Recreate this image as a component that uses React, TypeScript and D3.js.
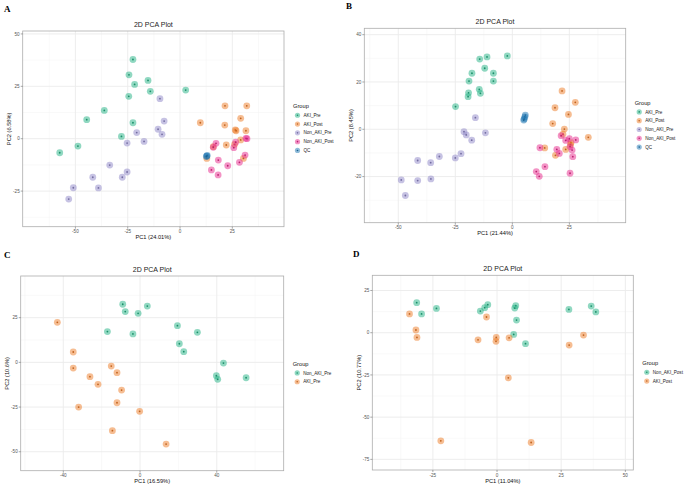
import * as d3 from "d3";
import React from "react";

type Pt = [number, number];

// group names
const groupsAB = ["AKI_Pre", "AKI_Post", "Non_AKI_Pre", "Non_AKI_Post", "QC"];
const groupsC = ["Non_AKI_Pre", "AKI_Pre"];
const groupsD = ["Non_AKI_Post", "AKI_Post"];

// axis labels
const axisTitles = [
  ["PC1 (24.01%)", "PC2 (6.58%)"],
  ["PC1 (21.44%)", "PC2 (8.45%)"],
  ["PC1 (16.59%)", "PC2 (10.6%)"],
  ["PC1 (11.04%)", "PC2 (10.77%)"],
];

// tick values
const aTicksX = [-50, -25, 0, 25];
const aTicksY = [-25, 0, 25, 50];
const bTicksX = [-50, -25, 0, 25];
const bTicksY = [-20, 0, 20, 40];
const cTicksX = [-40, 0, 40];
const cTicksY = [-50, -25, 0, 25];
const dTicksX = [-25, 0, 25, 50];
const dTicksY = [-75, -50, -25, 0, 25];

// panel A scores
const aAkiPre: Pt[] = [[-22.5, 37.8], [-24.4, 30.5], [-21.7, 25.9], [-15.3, 27.8], [-14.2, 22.6], [-24.5, 20.2], [2.7, 23.2], [-36.2, 13.5], [-44.6, 9.1], [-22.5, 7.6], [-28.0, 1.1], [-48.8, -3.5], [-57.5, -6.7]];
const aAkiPost: Pt[] = [[21.5, 15.7], [31.9, 15.7], [9.7, 7.6], [21.4, 6.5], [29.0, 9.7], [26.4, 4.2], [26.8, 3.8], [31.5, 3.8], [22.1, -3.0], [29.0, -0.6], [30.3, -9.4], [12.8, -9.4], [15.9, -3.8], [26.1, -2.7]];
const aNonAkiPre: Pt[] = [[-9.6, 19.1], [-7.6, 8.4], [-10.5, 4.5], [-8.6, 2.1], [-20.7, 2.9], [-25.3, -2.1], [-17.2, -1.3], [-33.6, -12.6], [-25.3, -15.9], [-27.6, -18.4], [-41.7, -18.4], [-39.0, -23.5], [-51.0, -23.4], [-53.2, -28.8]];
const aNonAkiPost: Pt[] = [[17.2, -2.2], [15.9, -4.1], [26.6, -1.7], [25.7, -4.3], [31.5, 0.2], [32.0, 0], [18.3, -10.2], [22.8, -12.9], [28.4, -11.3], [31.1, -7.8], [15.0, -14.9], [18.2, -17.3]];
const aQc: Pt[] = [[12.8, -8.3], [13.0, -8.0], [12.6, -8.5]];

// panel B scores
const bAkiPre: Pt[] = [[-2.2, 31.0], [-11.1, 30.6], [-14.3, 29.7], [-12.1, 25.8], [-8.3, 23.7], [-17.7, 23.7], [-8.3, 20.4], [-19.0, 20.4], [-14.5, 16.9], [-14.0, 15.2], [-19.2, 15.4], [-19.4, 13.8], [-24.9, 9.6]];
const bAkiPost: Pt[] = [[21.8, 16.2], [27.6, 11.4], [18.7, 9.1], [24.6, 6.3], [17.7, 2.4], [22.8, 0.1], [22.2, -2.1], [33.3, -3.4], [25.7, -5.7], [14.2, -7.9], [23.4, -8.5], [18.9, -11.0], [25.5, -6.5]];
const bNonAkiPre: Pt[] = [[-16.2, 4.9], [-21.2, -1.0], [-20.2, -2.4], [-17.8, -4.6], [-11.8, -1.5], [-22.5, -10.3], [-25.0, -12.1], [-32.0, -11.5], [-35.8, -14.1], [-41.5, -13.2], [-48.7, -21.4], [-41.5, -21.7], [-35.7, -21.0], [-46.9, -28.0]];
const bNonAkiPost: Pt[] = [[21.4, -2.7], [25.0, -4.0], [23.4, -4.7], [27.8, -4.5], [25.3, -7.3], [26.2, -8.8], [19.5, -8.5], [20.6, -10.2], [26.5, -11.6], [12.1, -7.8], [14.3, -15.8], [25.3, -18.6], [10.5, -17.9], [11.8, -19.9]];
const bQc: Pt[] = [[5.7, 6.0], [5.5, 5.2], [5.2, 4.4], [5.0, 3.9]];

// panel C scores
const cNonAkiPre: Pt[] = [[-9.0, 32.5], [-7.7, 28.4], [3.8, 31.5], [-1.0, 27.4], [-17.0, 17.2], [-3.7, 15.9], [19.5, 20.5], [29.9, 16.8], [20.5, 10.4], [22.8, 6.0], [43.5, -0.4], [39.8, -7.5], [40.5, -9.5], [55.3, -8.6]];
const cAkiPre: Pt[] = [[-43.1, 22.4], [-34.8, 5.8], [-34.8, -3.2], [-26.1, -8.0], [-21.9, -12.3], [-15.0, -2.1], [-12.0, -5.8], [-9.6, -15.5], [-12.0, -22.6], [-32.0, -25.0], [-0.2, -27.4], [-14.4, -38.2], [13.6, -45.7]];

// panel D scores
const dNonAkiPost: Pt[] = [[-31.3, 17.8], [-29.4, 11.1], [-23.6, 14.4], [-6.5, 12.8], [-4.8, 14.8], [-3.6, 16.6], [7.3, 16.0], [6.9, 14.6], [7.6, 7.5], [6.5, -1.0], [11.1, -6.5], [28.0, 13.8], [36.7, 15.8], [38.5, 12.3]];
const dAkiPost: Pt[] = [[-34.1, 11.1], [-31.6, 1.6], [-31.2, -2.8], [-4.1, 9.3], [-7.4, -4.2], [-0.3, -2.8], [-0.4, -5.1], [4.7, -3.0], [33.7, -1.4], [28.1, -7.3], [4.4, -26.7], [-21.9, -64.0], [13.3, -65.0]];

const palette = ["#22B283", "#EE7B26", "#8E86C8", "#E8288C", "#1F78B4"];
const FONT = "'Liberation Sans', Arial, sans-serif";

interface PanelCfg {
  letter: string;
  letterPos: [number, number];
  box: [number, number, number, number]; // left, top, right, bottom
  xDom: [number, number];
  yDom: [number, number];
  ticksX: number[];
  ticksY: number[];
  groups: string[];
  series: Pt[][];
  titles: string[];
}

const panels: PanelCfg[] = [
  { letter: "A", letterPos: [4, 12], box: [22.7, 31, 284, 226.7], xDom: [-75.2, 49.7], yDom: [-42, 51.4], ticksX: aTicksX, ticksY: aTicksY, groups: groupsAB, series: [aAkiPre, aAkiPost, aNonAkiPre, aNonAkiPost, aQc], titles: axisTitles[0] },
  { letter: "B", letterPos: [346, 9], box: [364.3, 28.3, 625.7, 222.7], xDom: [-64.9, 49.7], yDom: [-39.5, 42.7], ticksX: bTicksX, ticksY: bTicksY, groups: groupsAB, series: [bAkiPre, bAkiPost, bNonAkiPre, bNonAkiPost, bQc], titles: axisTitles[1] },
  { letter: "C", letterPos: [4, 258], box: [20.7, 276, 283.7, 470.7], xDom: [-62.2, 74.9], yDom: [-60.6, 48.3], ticksX: cTicksX, ticksY: cTicksY, groups: groupsC, series: [cNonAkiPre, cAkiPre], titles: axisTitles[2] },
  { letter: "D", letterPos: [353, 256.5], box: [372.3, 275.3, 633.3, 470], xDom: [-48.6, 53.1], yDom: [-81.3, 34], ticksX: dTicksX, ticksY: dTicksY, groups: groupsD, series: [dNonAkiPost, dAkiPost], titles: axisTitles[3] },
];

// minor grid lines halfway between breaks, kept inside the domain
function minors(ticks: number[], dom: [number, number]) {
  const step = ticks[1] - ticks[0];
  const out: number[] = [];
  for (let v = ticks[0] - step / 2; v <= dom[1]; v += step) {
    if (v >= dom[0]) out.push(v);
  }
  return out;
}

const dark = (c: string) => d3.color(c)!.darker(0.6).formatHex();

const Panel: React.FC<{ p: PanelCfg }> = ({ p }) => {
  const [l, t, r, b] = p.box;
  const x = d3.scaleLinear().domain(p.xDom).range([l, r]);
  const y = d3.scaleLinear().domain(p.yDom).range([b, t]);
  const cx = (l + r) / 2;
  const cy = (t + b) / 2;
  const colorIdx = p.groups.length === 2 ? [0, 1] : [0, 1, 2, 3, 4];
  const itemStep = 8.8;
  const itemsMid = cy + 4;
  const n = p.groups.length;
  const itemY = (i: number) => itemsMid + (i - (n - 1) / 2) * itemStep;

  return (
    <g>
      <text x={p.letterPos[0]} y={p.letterPos[1]} fontFamily="'Liberation Serif', 'DejaVu Serif', serif" fontWeight="bold" fontSize={9}>
        {p.letter}
      </text>
      <text x={cx} y={t - 4} textAnchor="middle" fontFamily={FONT} fontSize={7} fill="#222">
        2D PCA Plot
      </text>
      <rect x={l} y={t} width={r - l} height={b - t} fill="#fff" />
      {minors(p.ticksX, p.xDom).map((v) => (
        <line key={"mx" + v} x1={x(v)} x2={x(v)} y1={t} y2={b} stroke="#f2f2f2" strokeWidth={0.5} />
      ))}
      {minors(p.ticksY, p.yDom).map((v) => (
        <line key={"my" + v} y1={y(v)} y2={y(v)} x1={l} x2={r} stroke="#f2f2f2" strokeWidth={0.5} />
      ))}
      {p.ticksX.map((v) => (
        <line key={"gx" + v} x1={x(v)} x2={x(v)} y1={t} y2={b} stroke="#ebebeb" strokeWidth={0.9} />
      ))}
      {p.ticksY.map((v) => (
        <line key={"gy" + v} y1={y(v)} y2={y(v)} x1={l} x2={r} stroke="#ebebeb" strokeWidth={0.9} />
      ))}
      {p.series.map((pts, si) =>
        pts.map((d, i) => (
          <g key={`${si}-${i}`}>
            <circle cx={x(d[0])} cy={y(d[1])} r={3.4} fill={palette[colorIdx[si]]} fillOpacity={0.5} />
            <circle cx={x(d[0])} cy={y(d[1])} r={0.9} fill={dark(palette[colorIdx[si]])} />
          </g>
        ))
      )}
      <rect x={l} y={t} width={r - l} height={b - t} fill="none" stroke="#adadad" strokeWidth={0.8} />
      {p.ticksX.map((v) => (
        <g key={"tx" + v}>
          <line x1={x(v)} x2={x(v)} y1={b} y2={b + 2} stroke="#555" strokeWidth={0.5} />
          <text x={x(v)} y={b + 6.5} textAnchor="middle" fontFamily={FONT} fontSize={4.6} fill="#555">
            {v}
          </text>
        </g>
      ))}
      {p.ticksY.map((v) => (
        <g key={"ty" + v}>
          <line x1={l - 2} x2={l} y1={y(v)} y2={y(v)} stroke="#555" strokeWidth={0.5} />
          <text x={l - 3} y={y(v)} dy="0.35em" textAnchor="end" fontFamily={FONT} fontSize={4.6} fill="#555">
            {v}
          </text>
        </g>
      ))}
      <text x={cx} y={b + 10.7} dy="0.35em" textAnchor="middle" fontFamily={FONT} fontSize={5.7} fill="#111">
        {p.titles[0]}
      </text>
      <text
        transform={`translate(${l - 13.5},${cy}) rotate(-90)`}
        dy="0.35em"
        textAnchor="middle"
        fontFamily={FONT}
        fontSize={5.7}
        fill="#111"
      >
        {p.titles[1]}
      </text>
      <text x={r + 9} y={itemY(0) - 9.3} dy="0.35em" fontFamily={FONT} fontSize={5.7} fill="#111">
        Group
      </text>
      {p.groups.map((g, i) => (
        <g key={g}>
          <circle cx={r + 13.5} cy={itemY(i)} r={2.6} fill={palette[colorIdx[i]]} fillOpacity={0.5} />
          <circle cx={r + 13.5} cy={itemY(i)} r={0.8} fill={dark(palette[colorIdx[i]])} />
          <text x={r + 19.5} y={itemY(i)} dy="0.35em" fontFamily={FONT} fontSize={4.6} fill="#222">
            {g}
          </text>
        </g>
      ))}
    </g>
  );
};

export default function App() {
  return (
    <svg
      width={685}
      height={488}
      style={{ position: "fixed", left: 0, top: 0, background: "#fff" }}
    >
      <rect width={685} height={488} fill="#fff" />
      {panels.map((p) => (
        <Panel key={p.letter} p={p} />
      ))}
    </svg>
  );
}
